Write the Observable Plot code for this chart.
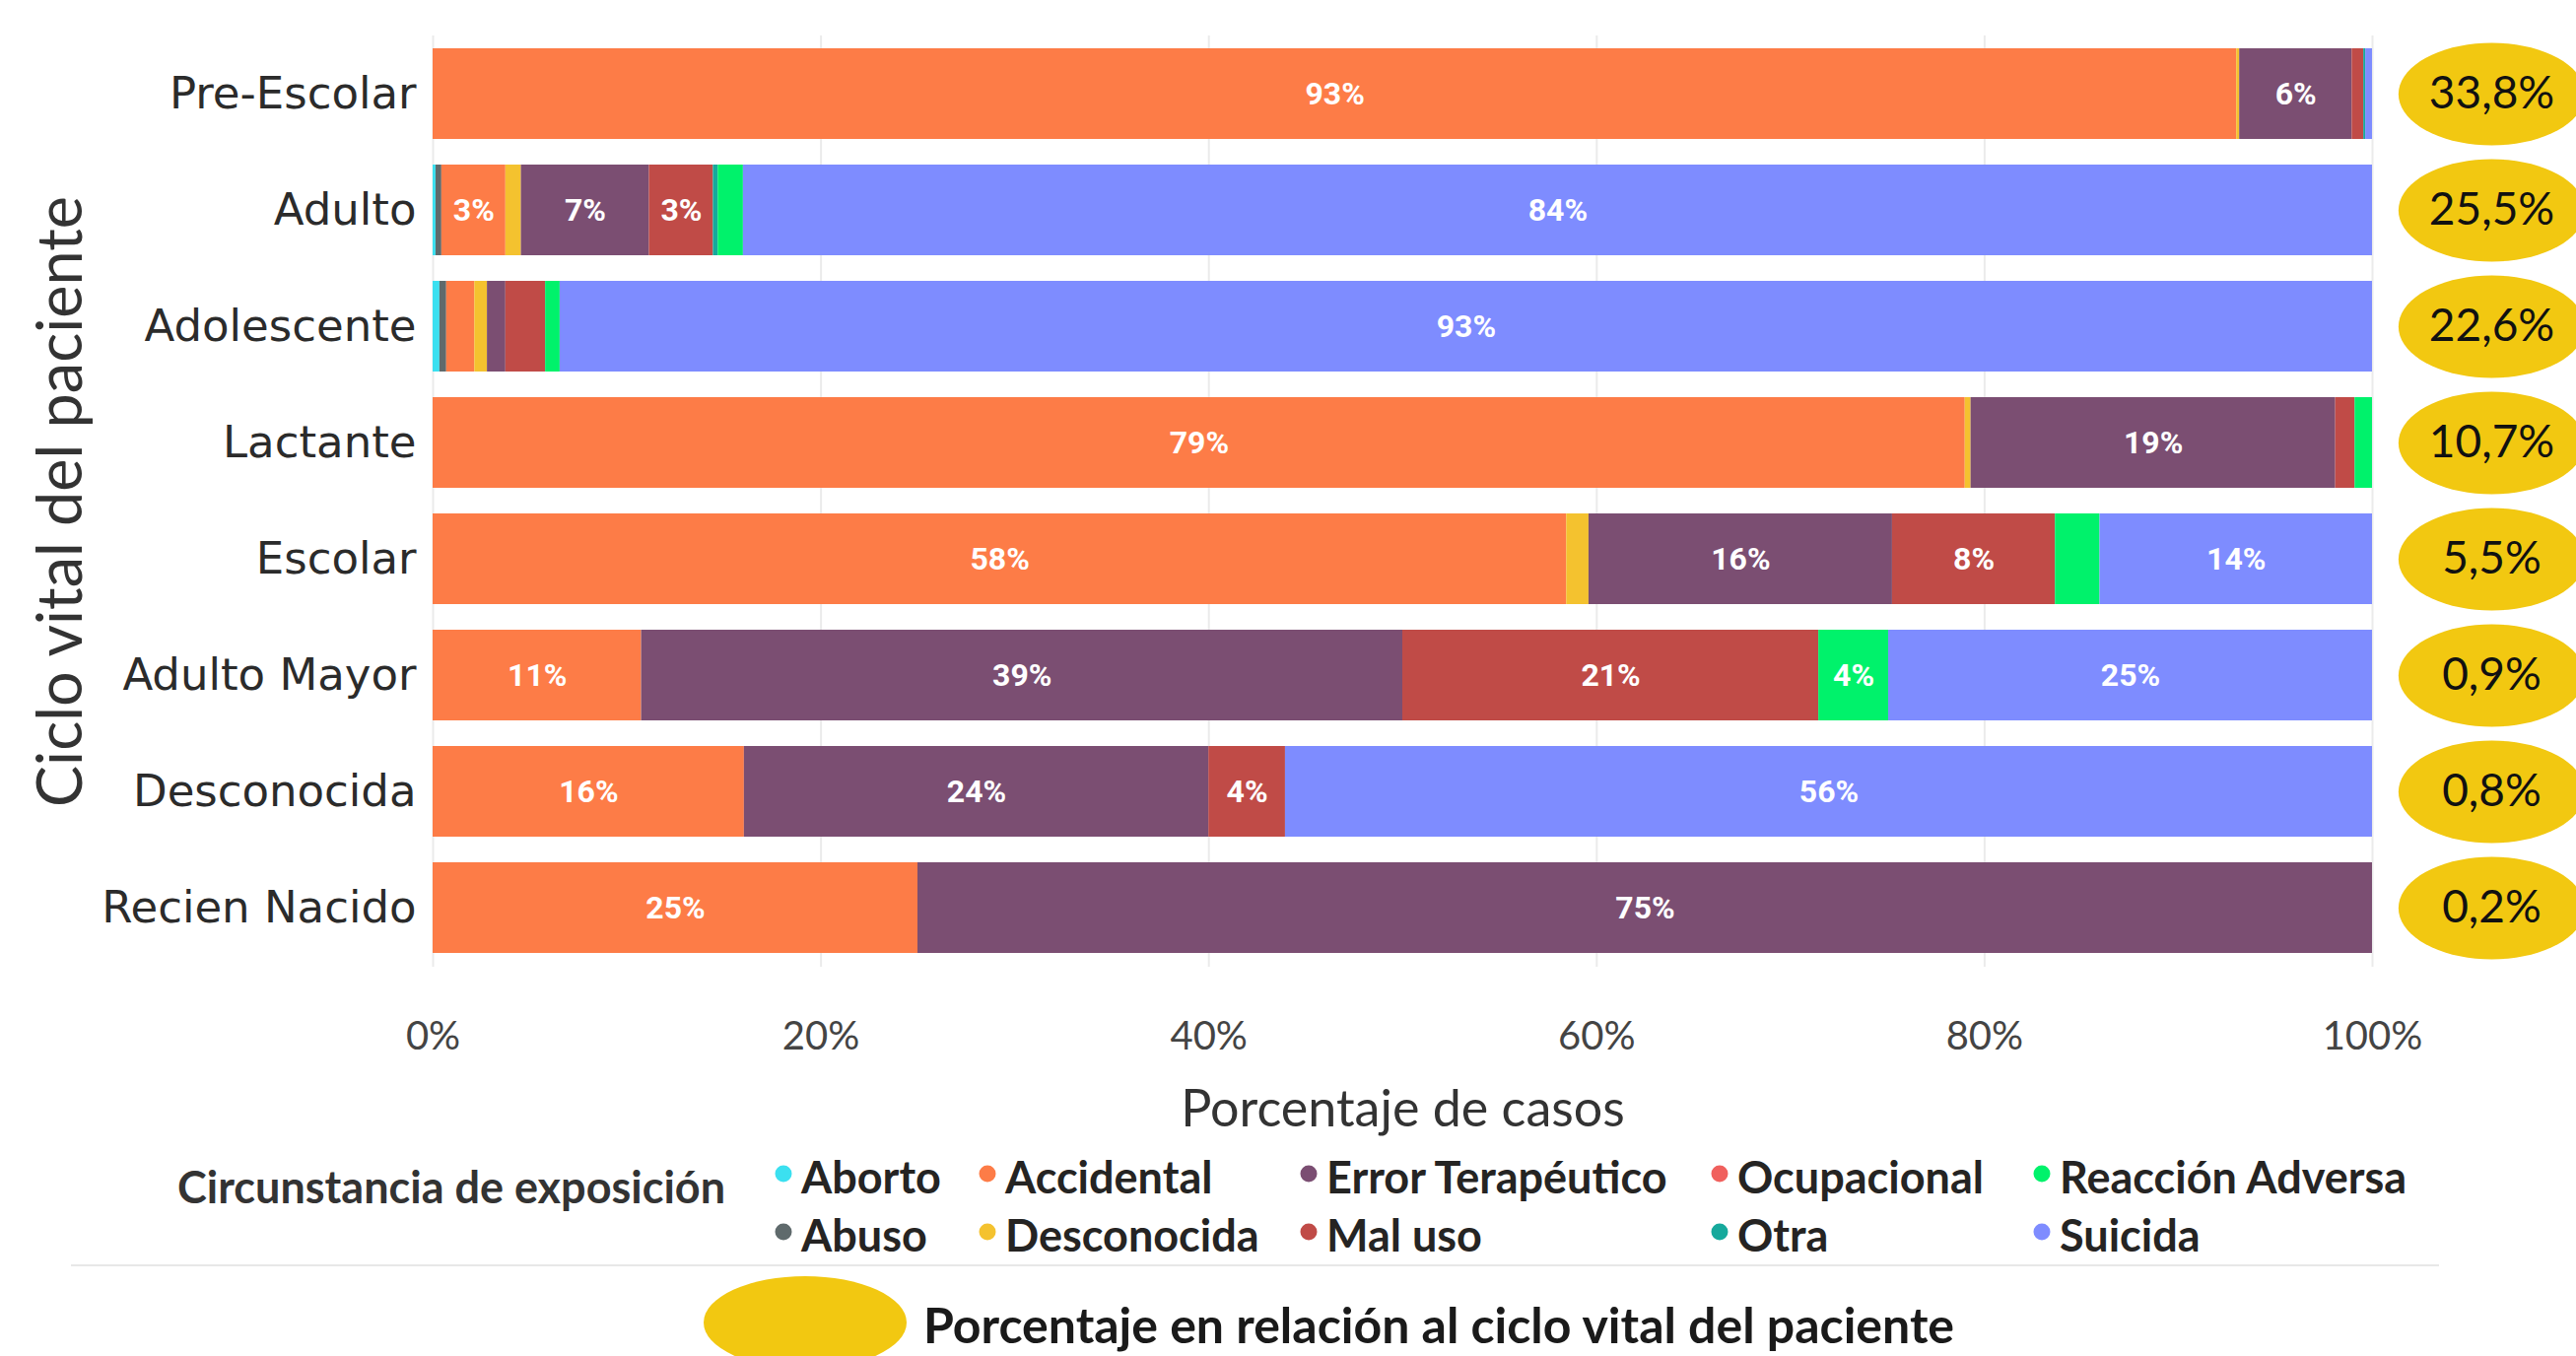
<!DOCTYPE html>
<html>
<head>
<meta charset="utf-8">
<script src="https://cdn.jsdelivr.net/npm/d3@7"></script>
<script src="https://cdn.jsdelivr.net/npm/@observablehq/plot@0.6"></script>
<style>
  html, body { margin: 0; padding: 0; background: #fff; }
  body { width: 2614px; height: 1376px; overflow: hidden; position: relative; font-family: Lato, "Open Sans", sans-serif; }
  #chart { position: absolute; left: 0; top: 0; }
  .lg-item { position: absolute; transform: translateY(-50%); font-weight: 700; font-size: 45px; color: #252423; white-space: nowrap; line-height: 1; }
  .lg-dot { position: absolute; width: 17px; height: 17px; border-radius: 50%; transform: translate(-50%, -50%); }
</style>
</head>
<body>
<div id="chart"></div>
<div id="legend"></div>
<script>
// ---------- DATA ----------
const categories = ["Pre-Escolar", "Adulto", "Adolescente", "Lactante", "Escolar", "Adulto Mayor", "Desconocida", "Recien Nacido"];
const types = ["Aborto", "Abuso", "Accidental", "Desconocida", "Error Terapéutico", "Mal uso", "Ocupacional", "Otra", "Reacción Adversa", "Suicida"];
const typeColors = ["#3BE0F0", "#5F6A6C", "#FD7C47", "#F4C22F", "#7B4E72", "#C04B47", "#F0605D", "#16A99C", "#00F26B", "#7E8CFF"];

// percentage of cases, per category (same order as categories)
const aborto           = [0,     0.15, 0.35, 0,    0,     0,     0,     0];
const abuso            = [0,     0.3,  0.35, 0,    0,     0,     0,     0];
const accidental       = [93.0,  3.3,  1.45, 79.0, 58.45, 10.75, 16.05, 25.0];
const desconocida      = [0.15,  0.8,  0.65, 0.3,  1.15,  0,     0,     0];
const errorTerapeutico = [5.8,   6.6,  0.95, 18.8, 15.65, 39.25, 23.95, 75.0];
const malUso           = [0.6,   3.3,  2.05, 1.0,  8.4,   21.45, 3.95,  0];
const ocupacional      = [0,     0,    0,    0,    0,     0,     0,     0];
const otra             = [0.1,   0.25, 0,    0,    0,     0,     0,     0];
const reaccionAdversa  = [0,     1.3,  0.75, 0.9,  2.3,   3.6,   0,     0];
const suicida          = [0.35,  84.0, 93.45, 0,   14.05, 24.95, 56.05, 0];

// share of cases by patient life cycle (%)
const shares = [33.8, 25.5, 22.6, 10.7, 5.5, 0.9, 0.8, 0.2];

const xTicks = [0, 20, 40, 60, 80, 100];

// ---------- BUILD ----------
const series = [aborto, abuso, accidental, desconocida, errorTerapeutico, malUso, ocupacional, otra, reaccionAdversa, suicida];
const rows = [];
categories.forEach((c, i) => {
  types.forEach((t, j) => rows.push({cat: c, type: t, value: series[j][i]}));
});
const shareRows = categories.map((c, i) => ({cat: c, share: shares[i]}));

const ellipseSymbol = {
  draw(context, size) {
    const r = Math.sqrt(size / Math.PI);
    const rx = r * 1.82, ry = r;
    const n = 72;
    context.moveTo(rx, 0);
    for (let k = 1; k < n; ++k) {
      const a = (2 * Math.PI * k) / n;
      context.lineTo(rx * Math.cos(a), ry * Math.sin(a));
    }
    context.closePath();
  }
};

const chart = Plot.plot({
  width: 2614,
  height: 1160,
  marginLeft: 439,
  marginRight: 207,
  marginTop: 36,
  marginBottom: 179,
  style: {fontFamily: "Lato, 'Open Sans', sans-serif", background: "transparent", overflow: "hidden"},
  x: {domain: [0, 100]},
  y: {domain: categories, paddingInner: 0.22, paddingOuter: 0.11},
  color: {domain: types, range: typeColors},
  marks: [
    Plot.ruleX(xTicks, {stroke: "#ebebeb", strokeWidth: 2}),
    Plot.barX(rows, {x: "value", y: "cat", fill: "type"}),
    Plot.text(rows, Plot.stackX({
      x: "value", y: "cat", z: "type",
      text: d => d.value >= 3 ? Math.round(d.value) + "%" : "",
      fill: "#ffffff", fontWeight: "bold", fontSize: 32, fontFamily: "Roboto, sans-serif"
    })),
    Plot.axisX({ticks: xTicks, tickFormat: d => d + "%", tickSize: 0, tickPadding: 55, fontSize: 40, fill: "#444", label: null}),
    Plot.axisY({tickSize: 0, tickPadding: 17, fontSize: 45, fontFamily: "'DejaVu Sans', sans-serif", fill: "#2b2b2b", label: null}),
    Plot.text(["Porcentaje de casos"], {text: d => d, frameAnchor: "bottom", lineAnchor: "middle", textAnchor: "middle", dy: 145, fontSize: 52, fill: "#333"}),
    Plot.text(["Ciclo vital del paciente"], {text: d => d, frameAnchor: "left", textAnchor: "middle", lineAnchor: "middle", dx: -377, rotate: -90, fontSize: 63, fill: "#333"}),
    Plot.dot(shareRows, {x: () => 100, y: "cat", dx: 121, r: 52, symbol: ellipseSymbol, fill: "#F2C811"}),
    Plot.text(shareRows, {x: () => 100, y: "cat", dx: 121, text: d => d.share.toFixed(1).replace(".", ",") + "%", fontSize: 46, fill: "#111"})
  ]
});
document.getElementById("chart").appendChild(chart);

// ---------- LEGEND (HTML, below the SVG) ----------
const legend = document.getElementById("legend");
const colX = [795, 1002, 1328, 1745, 2072];
const rowY = [1194, 1253];
function addEl(tag, cls, styles, text) {
  const el = document.createElement(tag);
  if (cls) el.className = cls;
  Object.assign(el.style, styles);
  if (text != null) el.textContent = text;
  legend.appendChild(el);
  return el;
}
addEl("div", "lg-item", {left: "180px", top: "1204px", color: "#333", fontSize: "45px"}, "Circunstancia de exposición");
types.forEach((t, i) => {
  const cx = colX[Math.floor(i / 2)], cy = rowY[i % 2];
  addEl("div", "lg-dot", {left: cx + "px", top: (cy - 3) + "px", background: typeColors[i]});
  addEl("div", "lg-item", {left: (cx + 18) + "px", top: cy + "px"}, t);
});
// divider
addEl("div", null, {position: "absolute", left: "72px", top: "1283px", width: "2403px", height: "2px", background: "#e8e8e8"});
// bottom note with yellow ellipse
addEl("div", null, {position: "absolute", left: "714px", top: "1295px", width: "206px", height: "94px", borderRadius: "50%", background: "#F2C811"});
addEl("div", "lg-item", {left: "937px", top: "1344px", fontSize: "50px", color: "#1a1a1a"}, "Porcentaje en relación al ciclo vital del paciente");
</script>
</body>
</html>
